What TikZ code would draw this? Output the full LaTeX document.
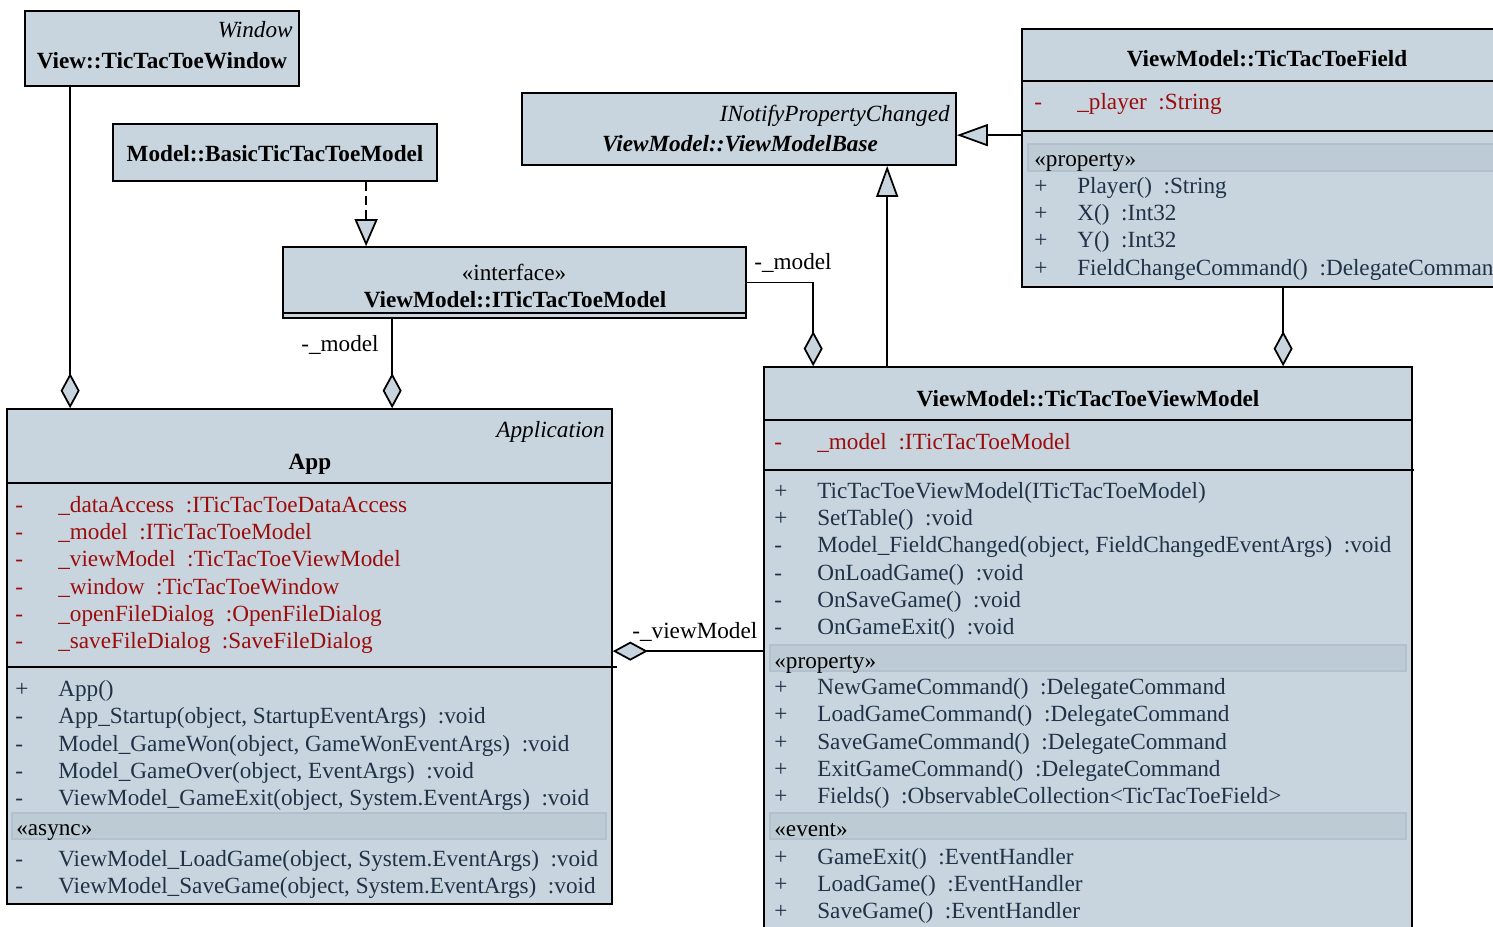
\documentclass[tikz,border=0pt]{standalone}
\usepackage{fontspec}
\setmainfont{Liberation Serif}
\usetikzlibrary{arrows.meta}

\definecolor{umlfill}{RGB}{200,213,222}
\definecolor{bandfill}{RGB}{189,203,213}
\definecolor{bandline}{RGB}{178,193,205}
\definecolor{opcol}{RGB}{32,50,72}
\definecolor{attrcol}{RGB}{155,12,12}

\newcommand{\umlsize}{\fontsize{13.2pt}{15.37pt}\selectfont}
\newcommand{\mem}[2]{\makebox[0.86cm][l]{#1}#2}

\begin{document}
\begin{tikzpicture}[x=0.02cm, y=-0.02cm,
    clsname/.style={font=\umlsize\bfseries, anchor=base, inner sep=0pt},
    stereo/.style={font=\umlsize\itshape, anchor=base east, inner sep=0pt},
    members/.style={font=\umlsize, align=left, anchor=base west, inner sep=0pt, text=opcol},
    attrs/.style={members, text=attrcol},
    group/.style={font=\umlsize, anchor=base west, inner sep=0pt},
    band/.style={fill=bandfill, draw=bandline, line width=0.6pt},
    sep/.style={line width=1pt},
    lbl/.style={font=\umlsize, inner sep=0pt},
    agg/.style={line width=1pt, -{Diamond[length=0.7cm, width=0.38cm, fill=umlfill]}},
    gen/.style={line width=1pt, -{Triangle[length=0.62cm, width=0.44cm, fill=umlfill]}},
    real/.style={line width=1pt, dash pattern=on 0.18cm off 0.1cm,
      -{Triangle[length=0.54cm, width=0.46cm, fill=umlfill]}}]

    \useasboundingbox (0,0) rectangle (1493,926);
    \clip (0,0) rectangle (1493,926);

    % class boxes
    \begin{scope}[every node/.style={draw=black, fill=umlfill, line width=1pt, inner sep=0pt}]
      \node[minimum width=5.48cm, minimum height=1.5cm] (win) at (162,48.5) {};
      \node[minimum width=6.48cm, minimum height=1.14cm] (basic) at (275,152.5) {};
      \node[minimum width=9.26cm, minimum height=1.42cm] (itm) at (514.5,282.5) {};
      \node[minimum width=8.68cm, minimum height=1.44cm] (vmb) at (739,129) {};
      \node[minimum width=9.8cm, minimum height=5.16cm] (field) at (1267,158) {};
      \node[minimum width=12.1cm, minimum height=9.9cm] (app) at (309.5,656.5) {};
      \node[minimum width=12.96cm, minimum height=12.66cm] (vm) at (1088,683.5) {};
    \end{scope}

    % compartments
    \draw[sep] (itm.south west) ++(0,-6) -- ++(463,0);
    \draw[sep] (1022,81) -- (1512,81);
    \draw[sep] (1022,131) -- (1512,131);
    \draw[sep] (7,483) -- (612,483);
    \draw[sep] (7,667) -- (617,667);
    \draw[sep] (764,420) -- (1412,420);
    \draw[sep] (764,470) -- (1414,470);
    \draw[band] (1028,144) rectangle (1510,171);
    \draw[band] (12,813) rectangle (606,839);
    \draw[band] (770,645) rectangle (1406,671);
    \draw[band] (770,813) rectangle (1406,839);

    % names
    \node[stereo] (winst) at (293,38) {Window};
    \node[clsname] (winname) at (162,69) {View::TicTacToeWindow};
    \node[clsname] (basicname) at (275,161) {Model::BasicTicTacToeModel};
    \node[lbl, anchor=base] (itmst) at (514,280) {«interface»};
    \node[clsname] (itmname) at (515,307) {ViewModel::ITicTacToeModel};
    \node[stereo] (vmbst) at (950,121) {INotifyPropertyChanged};
    \node[clsname, font=\umlsize\bfseries\itshape] (vmbname) at (740,152) {ViewModel::ViewModelBase};
    \node[clsname] (fieldname) at (1267,67) {ViewModel::TicTacToeField};
    \node[stereo] (appst) at (605,437) {Application};
    \node[clsname] (appname) at (310,469) {App};
    \node[clsname] (vmname) at (1088,406) {ViewModel::TicTacToeViewModel};

    % members (each block sits on the baseline of its last line)
    \node[attrs] (fieldattr) at (1034,110) {\mem{-}{\_player~ :String}};
    \node[group] (fieldgrp) at (1034,166) {«property»};
    \node[members] (fieldprop) at (1034,275) {\mem{+}{Player()~ :String}\\
      \mem{+}{X()~ :Int32}\\ \mem{+}{Y()~ :Int32}\\
      \mem{+}{FieldChangeCommand()~ :DelegateCommand}};

    \node[attrs] (appattr) at (15,648) {\mem{-}{\_dataAccess~ :ITicTacToeDataAccess}\\
      \mem{-}{\_model~ :ITicTacToeModel}\\
      \mem{-}{\_viewModel~ :TicTacToeViewModel}\\
      \mem{-}{\_window~ :TicTacToeWindow}\\
      \mem{-}{\_openFileDialog~ :OpenFileDialog}\\
      \mem{-}{\_saveFileDialog~ :SaveFileDialog}};
    \node[members] (appops) at (15,805) {\mem{+}{App()}\\
      \mem{-}{App\_Startup(object, StartupEventArgs)~ :void}\\
      \mem{-}{Model\_GameWon(object, GameWonEventArgs)~ :void}\\
      \mem{-}{Model\_GameOver(object, EventArgs)~ :void}\\
      \mem{-}{ViewModel\_GameExit(object, System.EventArgs)~ :void}};
    \node[group] (appgrp) at (16,835) {«async»};
    \node[members] (appasync) at (15,893) {\mem{-}{ViewModel\_LoadGame(object, System.EventArgs)~ :void}\\
      \mem{-}{ViewModel\_SaveGame(object, System.EventArgs)~ :void}};

    \node[attrs] (vmattr) at (774,449) {\mem{-}{\_model~ :ITicTacToeModel}};
    \node[members] (vmops) at (774,634) {\mem{+}{TicTacToeViewModel(ITicTacToeModel)}\\
      \mem{+}{SetTable()~ :void}\\
      \mem{-}{Model\_FieldChanged(object, FieldChangedEventArgs)~ :void}\\
      \mem{-}{OnLoadGame()~ :void}\\
      \mem{-}{OnSaveGame()~ :void}\\
      \mem{-}{OnGameExit()~ :void}};
    \node[group] (vmgrp) at (774,668) {«property»};
    \node[members] (vmprop) at (774,803) {\mem{+}{NewGameCommand()~ :DelegateCommand}\\
      \mem{+}{LoadGameCommand()~ :DelegateCommand}\\
      \mem{+}{SaveGameCommand()~ :DelegateCommand}\\
      \mem{+}{ExitGameCommand()~ :DelegateCommand}\\
      \mem{+}{Fields()~ :ObservableCollection<TicTacToeField>}};
    \node[group] (vmevgrp) at (774,836) {«event»};
    \node[members] (vmevents) at (774,918) {\mem{+}{GameExit()~ :EventHandler}\\
      \mem{+}{LoadGame()~ :EventHandler}\\
      \mem{+}{SaveGame()~ :EventHandler}};

    % connectors
    \coordinate (winout) at ([xshift=0.92cm]win.south west);
    \coordinate (basicout) at ([xshift=5.08cm]basic.south west);
    \coordinate (itmout) at ([xshift=2.2cm]itm.south west);
    \coordinate (vmin) at ([xshift=1cm]vm.north west);
    \coordinate (vmup) at ([xshift=2.48cm]vm.north west);
    \coordinate (vmleft) at ([yshift=-5.7cm]vm.north west);
    \coordinate (fieldout) at ([yshift=-2.14cm]field.north west);
    \coordinate (fielddown) at ([xshift=5.24cm]field.south west);

    \draw[agg] (winout) -- (winout |- app.north);
    \draw[real] (basicout) -- (basicout |- itm.north);
    \draw[agg] (itmout) -- (itmout |- app.north);
    \draw[agg] (itm.east) -| (vmin);
    \draw[gen] (vmup) -- (vmup |- vmb.south);
    \draw[gen] (fieldout) -- (fieldout -| vmb.east);
    \draw[agg] (fielddown) -- (fielddown |- vm.north);
    \draw[agg] (vmleft) -- (vmleft -| app.east);

    \node[lbl, anchor=base east] (lblmodela) at (379,351) {-\_model};
    \node[lbl, anchor=base west] (lblmodelb) at (754,269) {-\_model};
    \node[lbl, anchor=base west] (lblvm) at (632,638) {-\_viewModel};
  \end{tikzpicture}
\end{document}
